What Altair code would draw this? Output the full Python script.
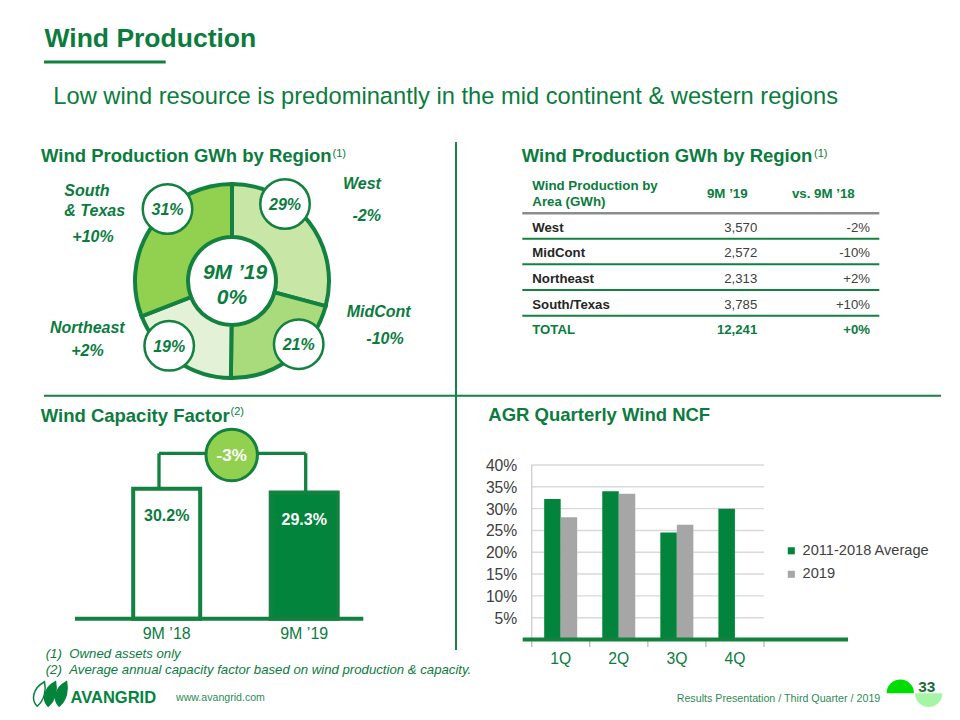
import altair as alt
import pandas as pd

FONT = "Liberation Sans"
GREEN = "#0B7C3E"
LINE_GREEN = "#13813F"
BAR_GREEN = "#03843D"
GRAY_BAR = "#A6A6A6"
DARK = "#262626"
MID = "#404040"

# ---------------- data ----------------
regions = ["West", "MidCont", "Northeast", "South/Texas"]
gwh_9m19 = [3570, 2572, 2313, 3785]
chg_vs_9m18 = ["-2%", "-10%", "+2%", "+10%"]
total_label = "TOTAL"
total_gwh = 12241
total_chg = "+0%"

donut_names = ["West", "MidCont", "Northeast", "South\n& Texas"]
donut_colors = ["#C8E7A7", "#A9DB7D", "#E3F2D6", "#92D050"]
donut_center_lines = ["9M ’19", "0%"]

cf_periods = ["9M ’18", "9M ’19"]
cf_values = [30.2, 29.3]
cf_change_label = "-3%"

quarters = ["1Q", "2Q", "3Q", "4Q"]
series = ["2011-2018 Average", "2019"]
ncf_avg = [32.2, 34.0, 24.5, 30.0]
ncf_2019 = [28.0, 33.4, 26.3]
ncf_ticks = [5, 10, 15, 20, 25, 30, 35, 40]

# ---------------- layout (pixels) ----------------
DONUT_C = (232, 281)
BADGE_XY = [(285, 204), (298.7, 344.2), (169.2, 345.8), (167.5, 209)]
NAME_POS = [(343, 189), (346.7, 317.4), (50, 333.4), (64.3, 196.4)]
CHG_POS = [(366.7, 220.7), (385, 344), (87.5, 355.7), (93, 241.7)]

layers = []
one = pd.DataFrame({"a": [0]})


def text(t, x, y, size, color=GREEN, weight="normal", style="normal",
         align="left", baseline="alphabetic", line_height=None):
    kw = dict(align=align, baseline=baseline, fontSize=size, fontWeight=weight,
              fontStyle=style, font=FONT, color=color)
    if "\n" in t:
        kw["lineBreak"] = "\n"
        kw["lineHeight"] = line_height or size * 1.2
    layers.append(alt.Chart(pd.DataFrame({"t": [t]})).mark_text(**kw).encode(
        text="t:N", x=alt.value(x), y=alt.value(y)))


def hline(x1, x2, y, color, w):
    layers.append(alt.Chart(one).mark_rule(color=color, strokeWidth=w).encode(
        x=alt.value(x1), x2=alt.value(x2), y=alt.value(y)))


def vline(x, y1, y2, color, w):
    layers.append(alt.Chart(one).mark_rule(color=color, strokeWidth=w).encode(
        x=alt.value(x), y=alt.value(y1), y2=alt.value(y2)))


# ---------------- headline ----------------
text("Wind Production", 44.5, 46.7, 26.5, weight="bold")
hline(44, 165.7, 62, LINE_GREEN, 3)
text("Low wind resource is predominantly in the mid continent & western regions",
     53.3, 104, 23.7)

# separators
vline(456, 142, 650, LINE_GREEN, 2)
hline(44, 941, 395.7, LINE_GREEN, 2)

# section titles
text("Wind Production GWh by Region", 41, 161.7, 18.5, weight="bold")
text("(1)", 332.5, 156.5, 11)
text("Wind Production GWh by Region", 521.7, 162.3, 18.5, weight="bold")
text("(1)", 814, 157, 11)
text("Wind Capacity Factor", 40.7, 421.7, 18.5, weight="bold")
text("(2)", 230.5, 414.5, 11)
text("AGR Quarterly Wind NCF", 488.3, 420.7, 18.5, weight="bold")

# ---------------- donut ----------------
don = pd.DataFrame({"region": regions, "gwh": gwh_9m19, "order": [0, 1, 2, 3]})
layers.append(alt.Chart(don).mark_arc(innerRadius=44, outerRadius=97,
                                      stroke=LINE_GREEN, strokeWidth=4).encode(
    theta=alt.Theta("gwh:Q", stack=True),
    order=alt.Order("order:Q"),
    color=alt.Color("region:N", scale=alt.Scale(domain=regions, range=donut_colors), legend=None),
    x=alt.value(DONUT_C[0]), y=alt.value(DONUT_C[1])))

total = sum(gwh_9m19)
badges = pd.DataFrame({
    "pct": [f"{round(v / total * 100)}%" for v in gwh_9m19],
    "bx": [p[0] for p in BADGE_XY], "by": [p[1] for p in BADGE_XY],
})
layers.append(alt.Chart(badges).mark_point(shape="circle", filled=True, fill="white",
                                           stroke=LINE_GREEN, strokeWidth=2.5, size=2450, opacity=1).encode(
    x=alt.X("bx:Q", scale=None), y=alt.Y("by:Q", scale=None)))
layers.append(alt.Chart(badges).mark_text(fontSize=16, fontWeight="bold", fontStyle="italic",
                                          font=FONT, color=GREEN, baseline="middle", dy=1).encode(
    x=alt.X("bx:Q", scale=None), y=alt.Y("by:Q", scale=None), text="pct:N"))

text(donut_center_lines[0], 235, 278.5, 21, weight="bold", style="italic", align="center")
text(donut_center_lines[1], 232, 304.2, 21, weight="bold", style="italic", align="center")

side = pd.DataFrame({
    "name": donut_names, "chg": chg_vs_9m18,
    "nx": [p[0] for p in NAME_POS], "ny": [p[1] for p in NAME_POS],
    "cx": [p[0] for p in CHG_POS], "cy": [p[1] for p in CHG_POS],
})
layers.append(alt.Chart(side).mark_text(fontSize=16, fontWeight="bold", fontStyle="italic",
                                        font=FONT, color=GREEN, align="left", baseline="alphabetic",
                                        lineBreak="\n", lineHeight=19.3).encode(
    x=alt.X("nx:Q", scale=None), y=alt.Y("ny:Q", scale=None), text="name:N"))
layers.append(alt.Chart(side).mark_text(fontSize=16, fontWeight="bold", fontStyle="italic",
                                        font=FONT, color=GREEN, align="center", baseline="alphabetic").encode(
    x=alt.X("cx:Q", scale=None), y=alt.Y("cy:Q", scale=None), text="chg:N"))

# ---------------- table ----------------
rows = regions + [total_label]
tbl = pd.DataFrame({
    "row": rows,
    "val": [f"{v:,}" for v in gwh_9m19] + [f"{total_gwh:,}"],
    "chg": chg_vs_9m18 + [total_chg],
    "is_total": [0, 0, 0, 0, 1],
})
row_scale = alt.Scale(type="point", domain=rows, range=[226.7, 329.3], padding=0)
text("Wind Production by\nArea (GWh)", 532.3, 189.8, 13.3, weight="bold", line_height=16)
text("9M ’19", 727.3, 198, 13.3, weight="bold", align="center")
text("vs. 9M ’18", 823.3, 198, 13.3, weight="bold", align="center")
hline(522.3, 879.3, 213.3, "#8C8C8C", 2.5)
layers.append(alt.Chart(tbl).transform_filter("datum.is_total == 0").mark_rule(
    color=LINE_GREEN, strokeWidth=2, yOffset=12).encode(
    y=alt.Y("row:N", scale=row_scale, axis=None), x=alt.value(522.3), x2=alt.value(879.3)))
for is_tot, wt, col_lbl, col_val in [(0, "normal", DARK, MID), (1, "bold", GREEN, GREEN)]:
    base = alt.Chart(tbl).transform_filter(f"datum.is_total == {is_tot}")
    layers.append(base.mark_text(fontSize=13.2, fontWeight="bold", font=FONT, color=col_lbl,
                                 align="left", baseline="middle", dy=1).encode(
        y=alt.Y("row:N", scale=row_scale, axis=None), x=alt.value(532.3), text="row:N"))
    layers.append(base.mark_text(fontSize=13.2, fontWeight=wt, font=FONT, color=col_val,
                                 align="right", baseline="middle", dy=1).encode(
        y=alt.Y("row:N", scale=row_scale, axis=None), x=alt.value(757.3), text="val:N"))
    layers.append(base.mark_text(fontSize=13.2, fontWeight=wt, font=FONT, color=col_val,
                                 align="right", baseline="middle", dy=1).encode(
        y=alt.Y("row:N", scale=row_scale, axis=None), x=alt.value(870), text="chg:N"))

# ---------------- capacity factor ----------------
cf = pd.DataFrame({"p": cf_periods, "v": cf_values,
                   "lc": [GREEN, "white"], "lx": [159, 305.7]})
cf_x = alt.Scale(type="band", domain=cf_periods, range=[133.2, 337.7], paddingInner=0.513, paddingOuter=0)
cf_y = alt.Scale(domain=[0, 40], range=[618.7, 446.5], nice=False, zero=True)
layers.append(alt.Chart(cf).mark_rule(color=LINE_GREEN, strokeWidth=3.3).encode(
    x=alt.X("lx:Q", scale=None), y=alt.Y("v:Q", scale=cf_y, axis=None), y2=alt.value(453.3)))
hline(159, 305.7, 453.3, LINE_GREEN, 3.3)
layers.append(alt.Chart(cf).mark_bar(stroke=LINE_GREEN, strokeWidth=4).encode(
    x=alt.X("p:N", scale=cf_x, axis=None),
    y=alt.Y("v:Q", scale=cf_y, axis=None),
    color=alt.Color("p:N", scale=alt.Scale(domain=cf_periods, range=["white", BAR_GREEN]), legend=None)))
layers.append(alt.Chart(cf).transform_calculate(lbl="format(datum.v, '.1f') + '%'").mark_text(
    fontSize=16, fontWeight="bold", font=FONT, baseline="middle", dy=27).encode(
    x=alt.X("p:N", scale=cf_x, axis=None), y=alt.Y("v:Q", scale=cf_y, axis=None),
    text="lbl:N", color=alt.Color("lc:N", scale=None)))
layers.append(alt.Chart(cf).mark_text(fontSize=16, font=FONT, color=GREEN, baseline="alphabetic").encode(
    x=alt.X("p:N", scale=cf_x, axis=None), y=alt.value(638.5), text="p:N"))
layers.append(alt.Chart(one).mark_rule(color=LINE_GREEN, strokeWidth=4).encode(
    x=alt.value(75), x2=alt.value(363.3), y=alt.Y(datum=0, scale=cf_y, axis=None)))
layers.append(alt.Chart(one).mark_point(shape="circle", filled=True, fill="#92D050", stroke=LINE_GREEN,
                                        strokeWidth=3, size=2650, opacity=1).encode(
    x=alt.value(231.7), y=alt.value(455)))
text(cf_change_label, 231.7, 461, 17, color="white", weight="bold", align="center")

# ---------------- quarterly NCF ----------------
ncf = pd.DataFrame(
    [{"q": q, "s": series[0], "v": v} for q, v in zip(quarters, ncf_avg)]
    + [{"q": q, "s": series[1], "v": v} for q, v in zip(quarters, ncf_2019)])
ncf_x = alt.Scale(type="band", domain=quarters, range=[531.7, 764], paddingInner=0.43, paddingOuter=0.215)
ncf_xo = alt.Scale(type="band", domain=series, range=[0, 33], paddingInner=0, paddingOuter=0)
ncf_y = alt.Scale(domain=[0, 40], range=[639.5, 465], nice=False, zero=True)
ticks = pd.DataFrame({"t": ncf_ticks})
layers.append(alt.Chart(ticks).mark_rule(color="#D9D9D9", strokeWidth=1.4).encode(
    y=alt.Y("t:Q", scale=ncf_y, axis=None), x=alt.value(531.7), x2=alt.value(764)))
layers.append(alt.Chart(ticks).transform_calculate(lbl="datum.t + '%'").mark_text(
    align="right", baseline="middle", fontSize=15.7, font=FONT, color=MID, dy=1).encode(
    y=alt.Y("t:Q", scale=ncf_y, axis=None), x=alt.value(517.3), text="lbl:N"))
vline(531.7, 465, 639.5, "#D0D0D0", 1.4)
layers.append(alt.Chart(pd.DataFrame({"b": [0, 1, 2, 3, 4]})).mark_rule(color="#BFBFBF", strokeWidth=1.4).encode(
    x=alt.X("b:Q", scale=alt.Scale(domain=[0, 4], range=[531.7, 764]), axis=None),
    y=alt.value(641), y2=alt.value(647)))
layers.append(alt.Chart(ncf).mark_bar().encode(
    x=alt.X("q:N", scale=ncf_x, axis=None),
    xOffset=alt.XOffset("s:N", scale=ncf_xo),
    y=alt.Y("v:Q", scale=ncf_y, axis=None),
    color=alt.Color("s:N", scale=alt.Scale(domain=series, range=[BAR_GREEN, GRAY_BAR]),
                    legend=alt.Legend(orient="none", legendX=784, legendY=543.5, title=None,
                                      symbolType="square", symbolSize=50, symbolStrokeWidth=0,
                                      labelFontSize=14.6, labelFont=FONT, labelColor=MID,
                                      labelOffset=4, rowPadding=8.5, padding=0))))
layers.append(alt.Chart(one).mark_rule(color=LINE_GREEN, strokeWidth=4).encode(
    x=alt.value(522.7), x2=alt.value(848), y=alt.Y(datum=0, scale=ncf_y, axis=None)))
layers.append(alt.Chart(pd.DataFrame({"q": quarters})).mark_text(
    fontSize=15.7, font=FONT, color=GREEN, baseline="alphabetic").encode(
    x=alt.X("q:N", scale=ncf_x, axis=None), y=alt.value(664), text="q:N"))

# ---------------- footnotes & footer ----------------
text("(1)", 45.7, 658, 13.2, style="italic")
text("Owned assets only", 69.3, 658, 13.2, style="italic")
text("(2)", 45.7, 674, 13.2, style="italic")
text("Average annual capacity factor based on wind production & capacity.", 69.3, 674, 13.2, style="italic")

LEAF = "M-0.15,1 C-0.65,0.5 -0.55,-0.45 0.45,-1 C0.6,-0.3 0.45,0.5 -0.15,1 Z"
leaves = pd.DataFrame({"lx": [39, 50, 61], "ly": [694, 694, 694],
                       "f": ["white", BAR_GREEN, BAR_GREEN]})
layers.append(alt.Chart(leaves).mark_point(shape=LEAF, filled=True, stroke=BAR_GREEN,
                                           strokeWidth=1.5, size=600, opacity=1).encode(
    x=alt.X("lx:Q", scale=None), y=alt.Y("ly:Q", scale=None), fill=alt.Fill("f:N", scale=None)))
text("AVANGRID", 70.5, 703.3, 16.5, color=BAR_GREEN, weight="bold")
text("www.avangrid.com", 176, 700.5, 10.6, color="#2E8B57")
text("Results Presentation / Third Quarter / 2019", 676.7, 701.5, 10.7, color="#2E8B57")
layers.append(alt.Chart(one).mark_arc(theta=4.7124, theta2=7.854, outerRadius=13.7, innerRadius=0,
                                      color="#00DD00").encode(x=alt.value(900.3), y=alt.value(693.3)))
layers.append(alt.Chart(one).mark_arc(theta=1.5708, theta2=4.7124, outerRadius=13.7, innerRadius=0,
                                      color="#A6F5A6").encode(x=alt.value(928.7), y=alt.value(693.3)))
text("33", 926.7, 692.2, 15.4, color="#1E6B38", weight="bold", align="center")

chart = alt.layer(*layers).resolve_scale(
    x="independent", y="independent", color="independent", theta="independent",
    xOffset="independent", fill="independent"
).properties(
    width=960, height=720, padding=0, autosize=alt.AutoSizeParams(type="none"),
    background="white"
).configure_view(stroke=None)

chart.save("out.html", embed_options={"renderer": "svg", "actions": False})
